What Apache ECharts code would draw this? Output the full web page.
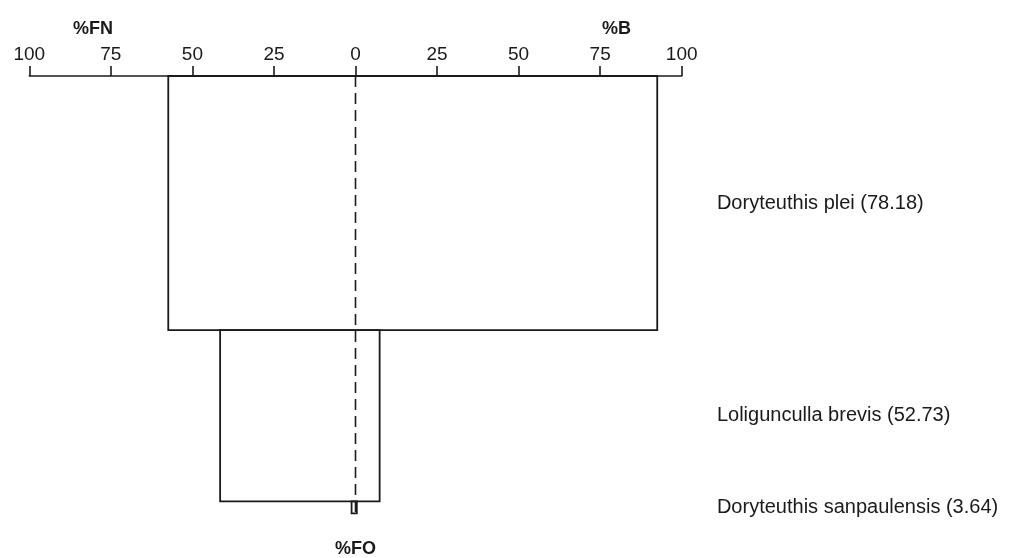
<!DOCTYPE html>
<html>
<head>
<meta charset="utf-8">
<script src="https://cdn.jsdelivr.net/npm/echarts@6/dist/echarts.min.js"></script>
<style>
  html, body { margin: 0; padding: 0; background: #fff; }
  #chart { width: 1017px; height: 558px; }
</style>
</head>
<body>
<div id="chart"></div>
<script>
// Costello-style diet diagram: bar height = %FO, left half-width = %FN, right half-width = %B
const prey = ['Doryteuthis plei', 'Loligunculla brevis', 'Doryteuthis sanpaulensis'];
const pctFO = [78.18, 52.73, 3.64];
const pctFN = [57.4, 41.5, 1.2];
const pctB = [92.5, 7.4, 0.4];
const xTicks = [-100, -75, -50, -25, 0, 25, 50, 75, 100];

const INK = '#1a1a1a';
const FONT = '"Liberation Sans", Arial, sans-serif';

// stack the bars one under another along the %FO axis
const rows = [];
let start = 0;
for (let i = 0; i < prey.length; i++) {
  rows.push([pctFN[i], pctB[i], start, pctFO[i], prey[i]]);
  start += pctFO[i];
}
const totalFO = start;

const chart = echarts.init(document.getElementById('chart'), null, { renderer: 'canvas' });

chart.setOption({
  backgroundColor: '#fff',
  animation: false,
  grid: { left: 29.3, right: 335.3, top: 76, height: 455, containLabel: false },
  xAxis: {
    type: 'value',
    position: 'top',
    min: xTicks[0],
    max: xTicks[xTicks.length - 1],
    interval: 25,
    axisLine: { show: true, onZero: false, lineStyle: { color: INK, width: 1.6 } },
    axisTick: { show: true, inside: false, length: 10, lineStyle: { color: INK, width: 1.6 } },
    axisLabel: {
      show: true, margin: 12, color: INK, fontFamily: FONT, fontSize: 19,
      formatter: v => String(Math.abs(v))
    },
    splitLine: { show: false }
  },
  yAxis: {
    type: 'value', inverse: true, min: 0, max: 140, show: false
  },
  series: [
    {
      type: 'custom',
      clip: false,
      data: rows,
      renderItem: function (params, api) {
        const fn = api.value(0), b = api.value(1), top = api.value(2), fo = api.value(3);
        const name = prey[params.dataIndex];
        const p1 = api.coord([-fn, top]);
        const p2 = api.coord([b, top + fo]);
        const lab = api.coord([110.8, top + fo / 2]);
        return {
          type: 'group',
          children: [
            {
              type: 'rect',
              shape: { x: p1[0], y: p1[1], width: p2[0] - p1[0], height: p2[1] - p1[1] },
              style: { fill: 'none', stroke: INK, lineWidth: 1.8 }
            },
            {
              type: 'text',
              x: lab[0], y: lab[1],
              style: {
                text: name + ' (' + fo.toFixed(2) + ')',
                fill: INK, font: '20px ' + FONT,
                textAlign: 'left', textVerticalAlign: 'middle'
              }
            }
          ]
        };
      }
    },
    {
      type: 'line',
      data: [[0, 0], [0, totalFO]],
      symbol: 'none',
      silent: true,
      lineStyle: { color: INK, width: 1.6, type: [11, 6] }
    }
  ]
});

// axis titles placed from the axis scale
const toX = v => chart.convertToPixel({ xAxisIndex: 0 }, v);
const toY = v => chart.convertToPixel({ yAxisIndex: 0 }, v);
const titleFont = 'bold 18px ' + FONT;
chart.setOption({
  graphic: [
    { type: 'text', x: toX(-80.5), y: 29, style: { text: '%FN', font: titleFont, fill: INK, textAlign: 'center', textVerticalAlign: 'middle' } },
    { type: 'text', x: toX(80), y: 29, style: { text: '%B', font: titleFont, fill: INK, textAlign: 'center', textVerticalAlign: 'middle' } },
    { type: 'text', x: toX(0), y: toY(totalFO) + 36, style: { text: '%FO', font: titleFont, fill: INK, textAlign: 'center', textVerticalAlign: 'middle' } }
  ]
});
</script>
</body>
</html>
